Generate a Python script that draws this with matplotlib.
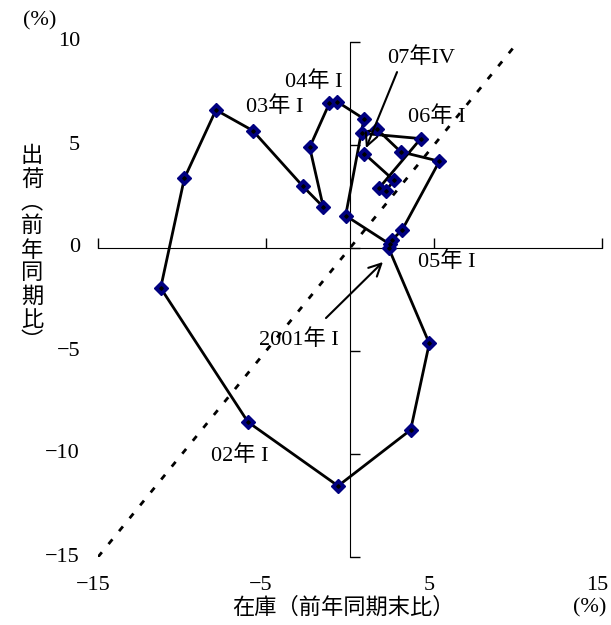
import matplotlib
matplotlib.use("Agg")
import matplotlib.pyplot as plt
from matplotlib.transforms import blended_transform_factory

plt.rcParams["font.family"] = ["Liberation Serif", "Noto Sans CJK JP"]
plt.rcParams["axes.unicode_minus"] = True

# ── Data: inventory vs shipments (y/y %), 2001 Q1 .. 2007 Q4 ───────────
inventory = [2.30, 4.72, 3.61, -0.71,
             -6.07, -11.27, -9.86, -7.98,
             -5.79, -2.82, -1.59, -2.40,
             -1.23, -0.76, 0.83, -0.26,
             2.38, 2.50, 3.10, 5.32,
             3.02, 1.59, 0.70, 4.21,
             1.71, 2.12, 2.62, 0.85]
shipments = [0.00, -4.63, -8.83, -11.55,
             -8.45, -1.94, 3.38, 6.70,
             5.70, 3.01, 1.99, 4.89,
             7.02, 7.10, 6.27, 1.57,
             0.18, 0.40, 0.87, 4.21,
             4.67, 5.78, 5.57, 5.31,
             2.89, 2.77, 3.28, 4.58]

diag = [-15, 10]
x_ticks = [-15, -5, 5, 15]
y_ticks = [-15, -10, -5, 0, 5, 10]

labels = ["02年 I", "03年 I", "04年 I", "05年 I", "06年 I"]
label_pos = [(-6.55, -10.1), (-4.46, 6.86), (-2.14, 8.06), (5.77, -0.68), (5.18, 6.36)]

FS = 16

fig = plt.figure(figsize=(6.11, 6.25), dpi=100)
ax = fig.add_axes([98 / 611, 1 - 557 / 625, 504 / 611, 515 / 625])

ax.plot(diag, diag, color="black", lw=2, linestyle=(0, (2.2, 3.8)))
ax.plot(inventory, shipments, color="black", lw=2, marker="D",
        markersize=7, markerfacecolor="#000080", markeredgecolor="#000080",
        zorder=3)
# small black centre dot inside each marker
ax.plot(inventory, shipments, linestyle="none", marker="D", markersize=1.8,
        color="black", zorder=4)

ax.set_xlim(-15, 15)
ax.set_ylim(-15, 10)
ax.spines["left"].set_position(("data", 0))
ax.spines["bottom"].set_position(("data", 0))
ax.spines["top"].set_visible(False)
ax.spines["right"].set_visible(False)
ax.set_xticks(x_ticks)
ax.set_yticks(y_ticks)
ax.tick_params(direction="in", length=7, width=1,
               labelbottom=False, labelleft=False)

# tick labels sit at the outer edges, not on the zero axes
ytr = blended_transform_factory(fig.transFigure, ax.transData)
for v in y_ticks:
    ax.text(80 / 611, v, f"{v}".replace("-", "\u2212"), transform=ytr,
            ha="right", va="center", fontsize=FS)
xtr = blended_transform_factory(ax.transData, fig.transFigure)
for v in x_ticks:
    ax.text(v - 0.3, 1 - 586 / 625, f"{v}".replace("-", "\u2212"),
            transform=xtr, ha="center", va="center", fontsize=FS)

for txt, (lx, ly) in zip(labels, label_pos):
    ax.text(lx, ly, txt, ha="center", va="center", fontsize=FS)

ax.text(-3.04, -4.47, "2001年 I", ha="center", va="center", fontsize=FS)
ax.annotate("", xy=(1.96, -0.68), xytext=(-1.43, -3.40),
            arrowprops=dict(arrowstyle="->", lw=1.5, mutation_scale=22,
                            shrinkA=0, shrinkB=0))
ax.text(4.23, 9.22, "07年IV", ha="center", va="center", fontsize=FS)
ax.annotate("", xy=(0.95, 4.85), xytext=(2.80, 8.54),
            arrowprops=dict(arrowstyle="->", lw=1.5, mutation_scale=22,
                            shrinkA=0, shrinkB=0))

fig.text(40 / 611, 1 - 21 / 625, "(%)", ha="center", va="center", fontsize=FS)
fig.text(590 / 611, 1 - 608 / 625, "(%)", ha="center", va="center", fontsize=FS)
fig.text(343 / 611, 1 - 608 / 625, "在庫（前年同期末比）", ha="center",
         va="center", fontsize=FS)
fig.text(32 / 611, 1 - 250 / 625, "出\n荷\n︵\n前\n年\n同\n期\n比\n︶",
         ha="center", va="center", fontsize=FS, linespacing=1.22)

fig.savefig("out.png", dpi=100)
